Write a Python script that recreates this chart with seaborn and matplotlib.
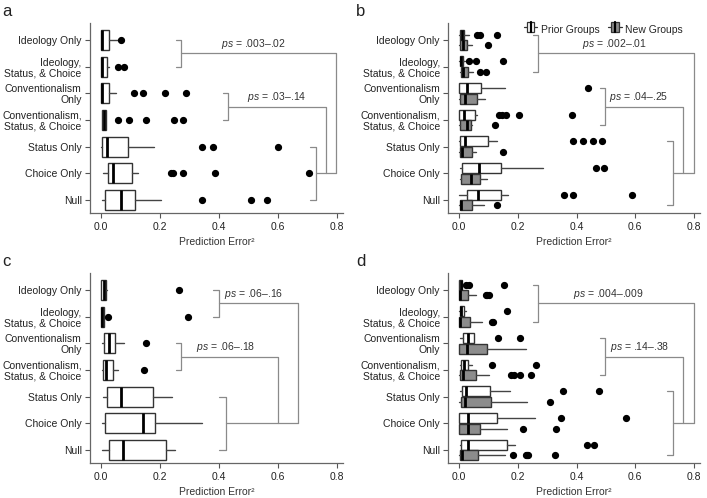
import numpy as np
import matplotlib
matplotlib.use("Agg")
import matplotlib.pyplot as plt
from matplotlib.patches import Patch, Rectangle
from matplotlib.lines import Line2D
from matplotlib.legend_handler import HandlerBase
import seaborn as sns

sns.set_style("ticks")
plt.rcParams["font.family"] = ["Liberation Sans Narrow", "Liberation Sans", "DejaVu Sans"]
plt.rcParams["mathtext.fontset"] = "custom"
plt.rcParams["mathtext.rm"] = "Liberation Sans"
plt.rcParams["mathtext.it"] = "Liberation Sans:italic"

categories = ["Ideology Only", "Ideology,\nStatus, & Choice", "Conventionalism\nOnly",
              "Conventionalism,\nStatus, & Choice", "Status Only", "Choice Only", "Null"]
xticks = [0.0, 0.2, 0.4, 0.6, 0.8]
xlabel = "Prediction Error\u00b2"
series_names = ["Prior Groups", "New Groups"]

# (whisker low, q1, median, q3, whisker high) per category, plus outliers
a_box = [(0.0, 0.0, 0.005, 0.028, 0.06), (0.0, 0.0, 0.003, 0.02, 0.028),
         (0.0, 0.0, 0.004, 0.028, 0.05), (0.003, 0.003, 0.01, 0.018, 0.018),
         (0.0, 0.002, 0.019, 0.093, 0.179), (0.006, 0.025, 0.04, 0.104, 0.126),
         (0.005, 0.014, 0.067, 0.115, 0.202)]
a_out = [[0.068], [0.059, 0.079], [0.113, 0.141, 0.217, 0.288],
         [0.059, 0.096, 0.152, 0.247, 0.277], [0.343, 0.380, 0.598],
         [0.237, 0.244, 0.277, 0.386, 0.704], [0.341, 0.507, 0.561]]

b_prior_box = [(0.0, 0.003, 0.01, 0.017, 0.034), (0.0, 0.002, 0.006, 0.015, 0.02),
               (0.0, 0.0, 0.028, 0.076, 0.156), (0.0, 0.0, 0.017, 0.053, 0.062),
               (0.0, 0.003, 0.02, 0.1, 0.131), (0.003, 0.011, 0.068, 0.142, 0.286),
               (0.0, 0.028, 0.065, 0.142, 0.167)]
b_prior_out = [[0.062, 0.072, 0.131], [0.034, 0.059, 0.151], [0.44],
               [0.137, 0.145, 0.16, 0.204, 0.386], [0.389, 0.421, 0.455, 0.488],
               [0.465, 0.494], [0.358, 0.389, 0.588]]
b_new_box = [(0.0, 0.003, 0.015, 0.028, 0.045), (0.002, 0.006, 0.012, 0.032, 0.048),
             (0.0, 0.003, 0.02, 0.06, 0.089), (0.0, 0.003, 0.028, 0.042, 0.045),
             (0.0, 0.003, 0.011, 0.045, 0.057), (0.003, 0.008, 0.04, 0.072, 0.094),
             (0.0, 0.003, 0.006, 0.043, 0.085)]
b_new_out = [[0.099], [0.072, 0.093], [], [0.123], [0.15], [], [0.131]]

c_box = [(0.0, 0.0, 0.01, 0.017, 0.019), (0.0, 0.0, 0.004, 0.01, 0.01),
         (0.002, 0.011, 0.028, 0.047, 0.078), (0.002, 0.008, 0.017, 0.04, 0.059),
         (0.008, 0.021, 0.067, 0.175, 0.239), (0.005, 0.014, 0.141, 0.183, 0.341),
         (0.002, 0.028, 0.073, 0.219, 0.25)]
c_out = [[0.265], [0.023, 0.296], [0.151], [0.146], [], [], []]

d_prior_box = [(0.0, 0.0, 0.006, 0.011, 0.02), (0.0, 0.003, 0.008, 0.017, 0.023),
               (0.003, 0.014, 0.031, 0.051, 0.051), (0.003, 0.008, 0.017, 0.032, 0.045),
               (0.003, 0.009, 0.025, 0.104, 0.174), (0.0, 0.0, 0.031, 0.128, 0.259),
               (0.003, 0.008, 0.032, 0.162, 0.19)]
d_prior_out = [[0.025, 0.034, 0.153], [0.165], [0.134, 0.207], [0.114, 0.263],
               [0.354, 0.478], [0.348, 0.568], [0.435, 0.46]]
d_new_box = [(0.0, 0.0, 0.004, 0.032, 0.059), (0.0, 0.0, 0.004, 0.036, 0.079),
             (0.0, 0.0, 0.026, 0.096, 0.227), (0.0, 0.003, 0.015, 0.059, 0.102),
             (0.0, 0.006, 0.02, 0.11, 0.23), (0.0, 0.0, 0.031, 0.072, 0.165),
             (0.0, 0.003, 0.011, 0.066, 0.156)]
d_new_out = [[0.091, 0.096, 0.102], [0.114, 0.117], [], [0.176, 0.187, 0.207, 0.246],
             [0.31], [0.219, 0.331], [0.184, 0.227, 0.233, 0.236, 0.327]]

p_labels = {
    "a": [".003\u2013.02", ".03\u2013.14"],
    "b": [".002\u2013.01", ".04\u2013.25"],
    "c": [".06\u2013.16", ".06\u2013.18"],
    "d": [".004\u2013.009", ".14\u2013.38"],
}

EDGE = "#333333"
LINE = "#8a8a8a"
GREY = "#8c8c8c"


def stats(box, out):
    res = []
    for (lo, q1, med, q3, hi), fl in zip(box, out):
        res.append(dict(whislo=lo, q1=q1, med=med, q3=q3, whishi=hi, fliers=fl))
    return res


def draw_boxes(ax, box, out, offset, width, fill):
    pos = np.arange(len(categories)) + offset
    ax.bxp(stats(box, out), positions=pos, widths=width, orientation="horizontal",
           patch_artist=True, showcaps=False,
           boxprops=dict(facecolor=fill, edgecolor=EDGE, linewidth=1.0),
           medianprops=dict(color="black", linewidth=2.0),
           whiskerprops=dict(color="#444444", linewidth=1.0),
           flierprops=dict(marker="o", markerfacecolor="black", markeredgecolor="black",
                           markersize=4.2))


def bracket(ax, y0, y1, xt, xv):
    ax.plot([xt, xv, xv, xt], [y0, y0, y1, y1], color=LINE, lw=0.9, clip_on=False)


def draw_annotations(ax, key, dual, xs):
    # xs: (tick1, vert1, right1, tick2, vert2, right2, tick3, vert3, text1, text2)
    t1, v1, r1, t2, v2, r2, t3, v3, tx1, tx2 = xs
    e = 0.2 if dual else 0.0
    bracket(ax, 0 - e, 1 + e, t1, v1)
    bracket(ax, 2 - e, 3 + e, t2, v2)
    bracket(ax, 4 - e, 6 + e, t3, v3)
    ax.plot([v1, r1, r1], [0.5, 0.5, 5], color=LINE, lw=0.9, clip_on=False)
    ax.plot([v2, r2, r2], [2.5, 2.5, 5], color=LINE, lw=0.9, clip_on=False)
    ax.plot([v3, r1], [5, 5], color=LINE, lw=0.9, clip_on=False)
    ax.annotate(r"$\mathit{ps}$ = " + p_labels[key][0], (tx1, 0.5), xytext=(0, 2),
                textcoords="offset points", ha="center", va="bottom", fontsize=7.5,
                color="#333333")
    ax.annotate(r"$\mathit{ps}$ = " + p_labels[key][1], (tx2, 2.5), xytext=(0, 2),
                textcoords="offset points", ha="center", va="bottom", fontsize=7.5,
                color="#333333")


class BoxIcon(HandlerBase):
    # small boxplot glyph for the legend: -[|]-
    def create_artists(self, legend, orig, xd, yd, width, height, fontsize, trans):
        fill = orig.get_facecolor()
        cy = yd + height / 2
        bw = width * 0.55
        bx = xd + (width - bw) / 2
        box = Rectangle((bx, yd), bw, height, facecolor=fill, edgecolor=EDGE, lw=0.9,
                        transform=trans)
        wl = Line2D([xd, bx], [cy, cy], color=EDGE, lw=0.9, transform=trans)
        wr = Line2D([bx + bw, xd + width], [cy, cy], color=EDGE, lw=0.9, transform=trans)
        md = Line2D([bx + bw / 2] * 2, [yd, yd + height], color="black", lw=1.6,
                    transform=trans)
        return [wl, wr, box, md]


W, H = 707, 498
fig = plt.figure(figsize=(W / 100, H / 100), dpi=100)
XL = (-0.037, 0.82)


def make_ax(x0, unit, top, bottom):
    left = x0 + XL[0] * unit
    right = x0 + XL[1] * unit
    ax = fig.add_axes([left / W, 1 - bottom / H, (right - left) / W, (bottom - top) / H])
    ax.set_xlabel(xlabel, fontsize=7.5, color="#333333", labelpad=4)
    ax.tick_params(labelsize=7.5, colors="#555555", labelcolor="#222222",
                   length=3.5, width=0.8, pad=2.5)
    for s in ["left", "bottom"]:
        ax.spines[s].set_color("#666666")
        ax.spines[s].set_linewidth(0.9)
    sns.despine(ax=ax)
    return ax


ax_a = make_ax(101, 295.4, 22.7, 213.3)
ax_b = make_ax(459, 293.75, 22.7, 213.3)
ax_c = make_ax(101, 295.4, 272.7, 463.3)
ax_d = make_ax(459, 293.75, 272.7, 463.3)

draw_boxes(ax_a, a_box, a_out, 0, 0.76, "white")
draw_boxes(ax_c, c_box, c_out, 0, 0.76, "white")
for ax, pb, po, nb, no in [(ax_b, b_prior_box, b_prior_out, b_new_box, b_new_out),
                           (ax_d, d_prior_box, d_prior_out, d_new_box, d_new_out)]:
    draw_boxes(ax, pb, po, -0.2, 0.38, "white")
    draw_boxes(ax, nb, no, 0.2, 0.38, GREY)

for ax in [ax_a, ax_b, ax_c, ax_d]:
    ax.set_yticks(range(len(categories)))
    ax.set_yticklabels(categories, linespacing=1.1)
    ax.set_xticks(xticks)
    ax.set_xticklabels([f"{v:.1f}" for v in xticks])
    ax.set_xlim(*XL)
    ax.set_ylim(6.5, -0.65)

draw_annotations(ax_a, "a", False, (0.253, 0.271, 0.797, 0.412, 0.431, 0.762, 0.708, 0.728, 0.516, 0.595))
draw_annotations(ax_b, "b", True, (0.252, 0.27, 0.8, 0.479, 0.497, 0.764, 0.709, 0.73, 0.528, 0.613))
draw_annotations(ax_c, "c", False, (0.38, 0.4, 0.668, 0.253, 0.271, 0.6, 0.40, 0.422, 0.516, 0.423))
draw_annotations(ax_d, "d", True, (0.252, 0.27, 0.8, 0.479, 0.497, 0.764, 0.709, 0.73, 0.507, 0.616))

handles = [Patch(facecolor="white", edgecolor=EDGE), Patch(facecolor=GREY, edgecolor=EDGE)]
ax_b.legend(handles, series_names, ncol=2, frameon=False, fontsize=7.5,
            loc="upper right", bbox_to_anchor=(0.97, 1.04), handlelength=1.3,
            handleheight=1.0, handletextpad=0.35, columnspacing=0.8,
            handler_map={Patch: BoxIcon()})

for lab, x, y in [("a", 2, 4), ("b", 356, 4), ("c", 2, 254), ("d", 356, 254)]:
    fig.text(x / W, 1 - y / H, lab, fontsize=12, va="top", ha="left", color="#222222")

fig.savefig("out.png", dpi=100)
